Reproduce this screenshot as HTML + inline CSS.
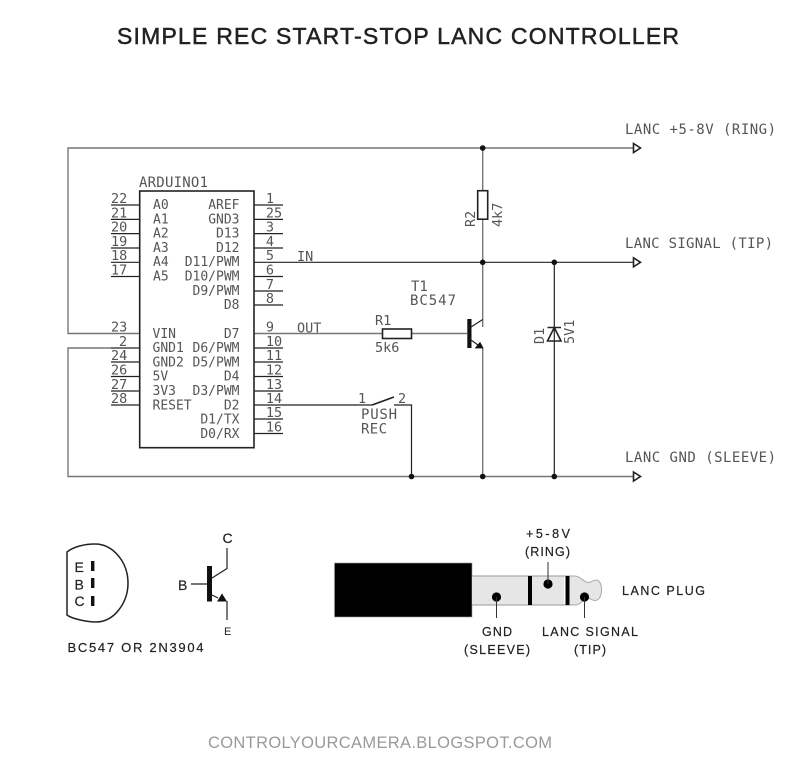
<!DOCTYPE html>
<html><head><meta charset="utf-8">
<style>
html,body{margin:0;padding:0;background:#fff;width:800px;height:770px;overflow:hidden}
svg{display:block}
.t{font-family:"Liberation Sans",sans-serif;fill:#222}
.m{font-family:"DejaVu Sans Mono",monospace;fill:#555;font-size:13px}
.n{font-family:"DejaVu Sans Mono",monospace;fill:#555;font-size:13.5px}
.l{font-family:"DejaVu Sans Mono",monospace;fill:#555;font-size:14px}
.w{stroke:#777;stroke-width:1.4;fill:none}
.k{stroke:#222;stroke-width:1.2;fill:none}
.b{stroke:#222;stroke-width:1.6;fill:none}
</style></head><body>
<svg width="800" height="770" viewBox="0 0 800 770" xmlns="http://www.w3.org/2000/svg">
<text class="t" x="117" y="44" font-size="23" stroke="#222" stroke-width=".5" textLength="562" lengthAdjust="spacing">SIMPLE REC START-STOP LANC CONTROLLER</text>

<!-- wires -->
<path class="w" d="M633 148H68V333.5H140"/>
<path class="w" d="M111 348H68V476.5H633"/>
<path class="k" d="M254 262.3H633"/>
<path class="w" d="M254 333.5H467"/>
<path class="w" d="M482.7 148V191M482.7 219V327"/>
<path class="w" d="M482.7 348V476.5"/>
<path class="k" d="M554.3 262.3V476.5"/>
<path class="k" d="M254 405H372M394 405H411.5V476.5"/>
<circle cx="482.7" cy="148" r="2.8" fill="#111"/>
<circle cx="482.7" cy="262.3" r="2.8" fill="#111"/>
<circle cx="554.3" cy="262.3" r="2.8" fill="#111"/>
<circle cx="411.5" cy="476.5" r="2.8" fill="#111"/>
<circle cx="482.7" cy="476.5" r="2.8" fill="#111"/>
<circle cx="554.3" cy="476.5" r="2.8" fill="#111"/>

<!-- arrows -->
<path class="b" d="M633.5 143.5L640.5 148L633.5 152.5Z" style="fill:#fff"/>
<path class="b" d="M633.5 257.8L640.5 262.3L633.5 266.8Z" style="fill:#fff"/>
<path class="b" d="M633.5 472L640.5 476.5L633.5 481Z" style="fill:#fff"/>

<!-- Arduino -->
<rect x="139.7" y="191" width="114.3" height="256.7" fill="#fff" stroke="#222" stroke-width="1.6"/>
<path class="k" d="M111 205H140M111 219.4H140M111 233.6H140M111 248H140M111 262.3H140M111 276.5H140M111 362H140M111 376.5H140M111 391H140M111 405H140M111 348H140"/>
<path class="k" d="M254 205H283M254 219.4H283M254 233.6H283M254 248H283M254 276.5H283M254 291H283M254 305H283M254 348H283M254 362H283M254 376.5H283M254 391H283M254 419H283M254 433.5H283"/>

<text class="l" x="139" y="187" textLength="69">ARDUINO1</text>
<g class="n">
<text x="111" y="203">22</text><text x="111" y="217.5">21</text><text x="111" y="231.5">20</text>
<text x="111" y="246">19</text><text x="111" y="260">18</text><text x="111" y="274.5">17</text>
<text x="111" y="331.5">23</text><text x="119" y="346">2</text><text x="111" y="360">24</text>
<text x="111" y="374.5">26</text><text x="111" y="389">27</text><text x="111" y="403">28</text>
<g text-anchor="middle">
<text x="270" y="203">1</text><text x="274" y="217.5">25</text><text x="270" y="231.5">3</text>
<text x="270" y="246">4</text><text x="270" y="260">5</text><text x="270" y="274.5">6</text>
<text x="270" y="289">7</text><text x="270" y="303">8</text>
<text x="270" y="331.5">9</text><text x="274" y="346">10</text><text x="274" y="360">11</text>
<text x="274" y="374.5">12</text><text x="274" y="389">13</text><text x="274" y="403">14</text>
<text x="274" y="417">15</text><text x="274" y="431.5">16</text>
</g>
</g>
<g class="m">
<text x="153" y="209">A0</text><text x="153" y="223.5">A1</text><text x="153" y="237.5">A2</text>
<text x="153" y="252">A3</text><text x="153" y="266">A4</text><text x="153" y="280.5">A5</text>
<text x="152.5" y="338">VIN</text><text x="152.5" y="352">GND1</text><text x="152.5" y="366.5">GND2</text>
<text x="152.5" y="380.5">5V</text><text x="152.5" y="395">3V3</text><text x="152.5" y="409.5">RESET</text>
<g text-anchor="end">
<text x="239.5" y="209">AREF</text><text x="239.5" y="223.5">GND3</text><text x="239.5" y="237.5">D13</text>
<text x="239.5" y="252">D12</text><text x="239.5" y="266">D11/PWM</text><text x="239.5" y="280.5">D10/PWM</text>
<text x="239.5" y="295">D9/PWM</text><text x="239.5" y="309">D8</text>
<text x="239.5" y="338">D7</text><text x="239.5" y="352">D6/PWM</text><text x="239.5" y="366.5">D5/PWM</text>
<text x="239.5" y="380.5">D4</text><text x="239.5" y="395">D3/PWM</text><text x="239.5" y="409.5">D2</text>
<text x="239.5" y="423.5">D1/TX</text><text x="239.5" y="438">D0/RX</text>
</g>
</g>
<text class="n" x="297" y="261">IN</text>
<text class="n" x="297" y="332.5">OUT</text>

<!-- R1 -->
<rect x="382.5" y="329" width="29" height="9.5" fill="#fff" stroke="#222" stroke-width="1.6"/>
<text class="n" x="375" y="325">R1</text>
<text class="n" x="375" y="352">5k6</text>
<!-- T1 -->
<text class="l" x="411" y="291">T1</text>
<text class="l" x="410" y="305" textLength="46">BC547</text>
<rect x="467.3" y="319" width="4.2" height="29" fill="#111"/>
<path class="k" d="M471 327L482.7 319.5"/>
<path class="k" d="M471 340L478 345"/>
<path d="M475.5 348H483L480 342.5Z" fill="#111" stroke="#111" stroke-width=".8"/>
<!-- R2 -->
<rect x="477.7" y="190.7" width="10" height="28.5" fill="#fff" stroke="#222" stroke-width="1.6"/>
<text class="n" transform="translate(475,227) rotate(-90)">R2</text>
<text class="n" transform="translate(502,227) rotate(-90)">4k7</text>
<!-- D1 -->
<path class="b" d="M547.5 327.5H561M554.3 327.5L547.5 341H561Z"/>
<text class="n" transform="translate(544,344) rotate(-90)">D1</text>
<text class="n" transform="translate(574,344) rotate(-90)">5V1</text>
<!-- switch -->
<path class="b" d="M372 405L394 397"/>
<text class="n" x="358" y="403">1</text>
<text class="n" x="398" y="403">2</text>
<text class="l" x="361" y="419" textLength="36">PUSH</text>
<text class="l" x="361" y="433.5" textLength="26">REC</text>

<text class="l" x="625" y="134" textLength="151">LANC +5-8V (RING)</text>
<text class="l" x="625" y="248" textLength="148">LANC SIGNAL (TIP)</text>
<text class="l" x="625" y="462" textLength="151">LANC GND (SLEEVE)</text>

<!-- Package -->
<path d="M67 552V615C72 619 88 622 96 622C114 622 128 603 128 583C128 562 113 544 95 544C84 544 73 547 67 552Z" fill="none" stroke="#222" stroke-width="1.5"/>
<rect x="91" y="561" width="3.4" height="10" fill="#111"/>
<rect x="91" y="578" width="3.4" height="10" fill="#111"/>
<rect x="91" y="596" width="3.4" height="10" fill="#111"/>
<g class="t" font-size="14" stroke="#222" stroke-width=".2">
<text x="74.5" y="572">E</text><text x="74.5" y="589.5">B</text><text x="74.5" y="606">C</text>
</g>
<text class="t" x="67.5" y="652" font-size="13" stroke="#222" stroke-width=".2" textLength="136" lengthAdjust="spacing">BC547 OR 2N3904</text>

<!-- Symbol -->
<rect x="207" y="566" width="5" height="35.5" fill="#111"/>
<path class="k" d="M191 584H207M212 578L227 568.5V548M212 595L218 598M227 601V620"/>
<path d="M217 601.5H227L222 593.5Z" fill="#111"/>
<text class="t" x="222.5" y="543" font-size="14" stroke="#222" stroke-width=".2">C</text>
<text class="t" x="178" y="590" font-size="14" stroke="#222" stroke-width=".2">B</text>
<text class="t" x="224" y="635" font-size="11">E</text>

<!-- Plug -->
<rect x="334.5" y="563" width="137.5" height="54" fill="#000" stroke="#999" stroke-width=".6"/>
<rect x="472" y="576" width="92" height="29" fill="#e6e6e6"/>
<path d="M472 576H570M472 605H570" stroke="#aaa" stroke-width="1.2" fill="none"/>
<path d="M569 576H575C580 576 584 582 588 582.5C591 583 592 580 596 580C600 580 601.5 585 601.5 590C601.5 596 599 600.5 595 600.5C591 600.5 590 597.5 587 598C583 599 581 605 575 605H569Z" fill="#e6e6e6" stroke="#aaa" stroke-width="1"/>
<rect x="528" y="576" width="4" height="29" fill="#000"/>
<rect x="565.5" y="576" width="4" height="29" fill="#000"/>
<circle cx="496.5" cy="597" r="4.6" fill="#000"/>
<circle cx="548" cy="584" r="4.6" fill="#000"/>
<circle cx="584.5" cy="597" r="4.6" fill="#000"/>
<path d="M496.5 597V618M548 584V562M584.5 597V618" stroke="#333" stroke-width="1" fill="none"/>
<g class="t" font-size="12.5" stroke="#222" stroke-width=".2">
<text x="526" y="538" textLength="44" lengthAdjust="spacing">+5-8V</text>
<text x="525" y="556" textLength="45" lengthAdjust="spacing">(RING)</text>
<text x="482" y="636" textLength="30" lengthAdjust="spacing">GND</text>
<text x="464" y="654" textLength="66" lengthAdjust="spacing">(SLEEVE)</text>
<text x="542" y="636" textLength="96" lengthAdjust="spacing">LANC SIGNAL</text>
<text x="574" y="654" textLength="32" lengthAdjust="spacing">(TIP)</text>
<text x="622" y="595" textLength="83" lengthAdjust="spacing">LANC PLUG</text>
</g>

<text x="208" y="748" font-family="Liberation Sans, sans-serif" font-size="16.5" fill="#999" textLength="344" lengthAdjust="spacing">CONTROLYOURCAMERA.BLOGSPOT.COM</text>
</svg>
</body></html>
